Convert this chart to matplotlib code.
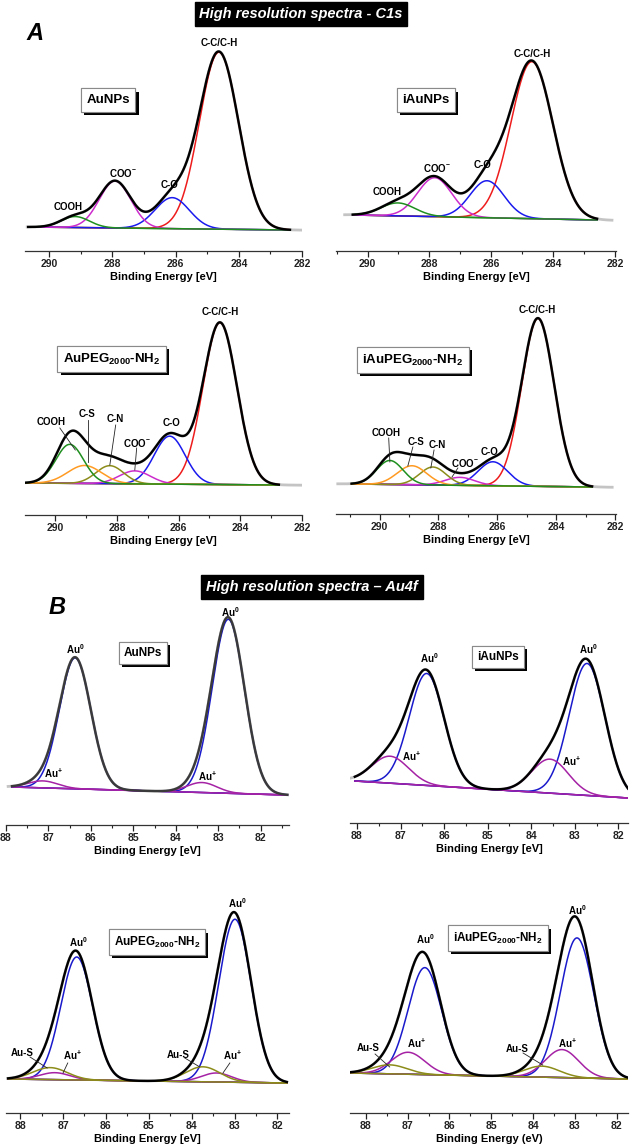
import numpy as np
import matplotlib
matplotlib.use('Agg')
import matplotlib.pyplot as plt
import matplotlib.patheffects as pe
from matplotlib.ticker import MultipleLocator, FormatStrFormatter

plt.rcParams['font.family'] = ['Liberation Sans', 'DejaVu Sans']
plt.rcParams['font.weight'] = 'bold'
plt.rcParams['mathtext.fontset'] = 'custom'
plt.rcParams['mathtext.rm'] = 'Liberation Sans:bold'
plt.rcParams['mathtext.bf'] = 'Liberation Sans:bold'
plt.rcParams['mathtext.it'] = 'Liberation Sans:bold:italic'
plt.rcParams['mathtext.default'] = 'rm'

# ---------------- data: fitted components (center eV, height a.u., sigma eV) ----------------
# C1s
c1s_AuNPs_center = [284.63, 286.11, 287.92, 289.18]
c1s_AuNPs_height = [177, 31, 47, 11]
c1s_AuNPs_sigma = [0.62, 0.54, 0.50, 0.45]
c1s_AuNPs_range = [290.67, 282.38]
c1s_AuNPs_bg = [0, -3]

c1s_iAuNPs_center = [284.69, 286.14, 287.83, 289.02]
c1s_iAuNPs_height = [157, 37, 39, 13]
c1s_iAuNPs_sigma = [0.68, 0.55, 0.55, 0.55]
c1s_iAuNPs_range = [290.48, 282.58]
c1s_iAuNPs_bg = [0, -5]

c1s_AuPEG_center = [284.66, 286.29, 287.42, 288.23, 289.05, 289.53]
c1s_AuPEG_height = [162, 48, 13, 18, 18, 39]
c1s_AuPEG_sigma = [0.55, 0.50, 0.50, 0.45, 0.55, 0.45]
c1s_AuPEG_range = [291.0, 282.75]
c1s_AuPEG_bg = [0, -2]

c1s_iAuPEG_center = [284.62, 286.15, 287.27, 288.19, 288.90, 289.65]
c1s_iAuPEG_height = [168, 24, 8, 18, 19, 24]
c1s_iAuPEG_sigma = [0.55, 0.50, 0.50, 0.45, 0.50, 0.45]
c1s_iAuPEG_range = [290.95, 282.78]
c1s_iAuPEG_bg = [0, -3]

# Au4f
au_AuNPs_center = [82.76, 86.37, 83.38, 87.13]
au_AuNPs_height = [174, 131, 10, 7]
au_AuNPs_sigma = [0.38, 0.37, 0.35, 0.35]
au_AuNPs_range = [87.86, 81.37]
au_AuNPs_bg = [0, -8]

au_iAuNPs_center = [82.72, 86.40, 83.57, 87.24]
au_iAuNPs_height = [132, 112, 34, 27]
au_iAuNPs_sigma = [0.41, 0.40, 0.42, 0.42]
au_iAuNPs_range = [88.05, 81.78]
au_iAuNPs_bg = [0, -17]

au_AuPEG_center = [82.99, 86.68, 83.42, 87.19, 83.74, 87.30]
au_AuPEG_height = [163, 123, 9, 7, 15, 12]
au_AuPEG_sigma = [0.38, 0.37, 0.35, 0.35, 0.40, 0.40]
au_AuPEG_range = [88.28, 81.78]
au_AuPEG_bg = [0, -4]

au_iAuPEG_center = [82.95, 86.59, 83.31, 86.99, 83.79, 87.43]
au_iAuPEG_height = [140, 107, 28, 22, 11, 9]
au_iAuPEG_sigma = [0.40, 0.40, 0.40, 0.40, 0.42, 0.42]
au_iAuPEG_range = [88.38, 81.73]
au_iAuPEG_bg = [0, -6]

# ---------------- styles ----------------
RED, BLUE, MAG, GREEN, OLIVE, ORANGE = '#ee1c1c', '#1a1aee', '#cc2ccc', '#1f8f1f', '#8c8c1a', '#ff9a22'
AUBLUE, AUMAG = '#1a1acc', '#a522a5'
c1s4_colors = [RED, BLUE, MAG, GREEN]
c1s6_colors = [RED, BLUE, MAG, OLIVE, ORANGE, GREEN]
au4_colors = [AUBLUE, AUBLUE, AUMAG, AUMAG]
au6_colors = [AUBLUE, AUBLUE, AUMAG, AUMAG, OLIVE, OLIVE]

W, H = 631, 1147
fig = plt.figure(figsize=(W / 100, H / 100), dpi=100)


def make_axes(x0, x1, y_axis, y_base, y_top, xlim, major, minor, xlabel):
    ax = fig.add_axes([x0 / W, 1 - y_axis / H, (x1 - x0) / W, (y_axis - y_top) / H])
    ymin = -(y_axis - y_base)
    ax.set_ylim(ymin, ymin + (y_axis - y_top))
    ax.set_xlim(*xlim)
    for s in ['left', 'right', 'top']:
        ax.spines[s].set_visible(False)
    ax.spines['bottom'].set_color('#333333')
    ax.spines['bottom'].set_linewidth(0.9)
    ax.set_yticks([])
    ax.xaxis.set_major_locator(MultipleLocator(major))
    ax.xaxis.set_minor_locator(MultipleLocator(minor))
    ax.xaxis.set_major_formatter(FormatStrFormatter('%d'))
    ax.tick_params(axis='x', which='major', direction='out', length=4, width=0.9,
                   labelsize=7.5, pad=2, colors='#222222')
    ax.tick_params(axis='x', which='minor', direction='out', length=2.5, width=0.8, colors='#222222')
    for lab_ in ax.get_xticklabels():
        lab_.set_fontweight('bold')
    ax.set_xlabel(xlabel, fontsize=8, fontweight='bold', labelpad=2)
    ax.patch.set_alpha(0)
    return ax


def gauss(e, c, h, s):
    return h * np.exp(-(e - c) ** 2 / (2 * s ** 2))


def draw_spectrum(ax, centers, heights, sigmas, colors, frange, bg, raw_range, bg_color, env_color='black'):
    def background(e):
        return bg[0] + (bg[1] - bg[0]) * (frange[0] - e) / (frange[0] - frange[1])

    e = np.linspace(frange[0], frange[1], 600)
    er = np.linspace(raw_range[0], raw_range[1], 600)
    env_r = background(er) + sum(gauss(er, c, h, s) for c, h, s in zip(centers, heights, sigmas))
    ax.plot(er, env_r, color='#c4c4c4', lw=2.0, zorder=1)
    ax.plot(e, background(e), color=bg_color, lw=1.1, zorder=2)
    for c, h, s, col in zip(centers, heights, sigmas, colors):
        ax.plot(e, background(e) + gauss(e, c, h, s), color=col, lw=1.1, zorder=3)
    env = background(e) + sum(gauss(e, c, h, s) for c, h, s in zip(centers, heights, sigmas))
    ax.plot(e, env, color=env_color, lw=1.7, zorder=4)


def sample_box(ax, x, y, text, fs=9.5):
    t = ax.text(x, y, text, ha='center', va='center', fontsize=fs, fontweight='bold', color='black', zorder=7,
                bbox=dict(boxstyle='square,pad=0.42', fc='white', ec='#8a8a8a', lw=0.8))
    t.get_bbox_patch().set_path_effects([
        pe.withSimplePatchShadow(offset=(2.3, -2.3), shadow_rgbFace='black', alpha=1.0), pe.Normal()])


def lab(ax, x, y, text, fs=7):
    ax.text(x, y, text, ha='center', va='center', fontsize=fs, fontweight='bold', zorder=8)


def leader(ax, p, q):
    ax.plot([p[0], q[0]], [p[1], q[1]], color='#222222', lw=0.6, zorder=5)


# ---------------- C1s panels ----------------
ax1 = make_axes(25, 302, 251, 227, 30, (290.77, 282.0), 2, 1, 'Binding Energy [eV]')
draw_spectrum(ax1, c1s_AuNPs_center, c1s_AuNPs_height, c1s_AuNPs_sigma, c1s4_colors,
              c1s_AuNPs_range, c1s_AuNPs_bg, [290.7, 282.0], GREEN)
lab(ax1, 284.63, 184, 'C-C/C-H')
lab(ax1, 287.66, 54, 'COO$^{-}$')
lab(ax1, 286.18, 42, 'C-O')
lab(ax1, 289.4, 20, 'COOH')
sample_box(ax1, 288.14, 127, 'AuNPs')

ax2 = make_axes(336, 616, 251, 215, 30, (291.02, 281.97), 2, 1, 'Binding Energy [eV]')
draw_spectrum(ax2, c1s_iAuNPs_center, c1s_iAuNPs_height, c1s_iAuNPs_sigma, c1s4_colors,
              c1s_iAuNPs_range, c1s_iAuNPs_bg, [290.74, 282.1], GREEN)
lab(ax2, 284.69, 161, 'C-C/C-H')
lab(ax2, 287.76, 47, 'COO$^{-}$')
lab(ax2, 286.27, 50, 'C-O')
lab(ax2, 289.38, 23, 'COOH')
sample_box(ax2, 288.12, 115, 'iAuNPs')

ax3 = make_axes(25, 302, 515, 483, 300, (290.98, 282.0), 2, 1, 'Binding Energy [eV]')
draw_spectrum(ax3, c1s_AuPEG_center, c1s_AuPEG_height, c1s_AuPEG_sigma, c1s6_colors,
              c1s_AuPEG_range, c1s_AuPEG_bg, [291.0, 282.0], GREEN)
lab(ax3, 284.66, 171, 'C-C/C-H')
lab(ax3, 286.22, 60, 'C-O')
lab(ax3, 287.36, 40, 'COO$^{-}$')
lab(ax3, 288.07, 64, 'C-N')
lab(ax3, 288.98, 69, 'C-S')
lab(ax3, 290.12, 61, 'COOH')
leader(ax3, (289.85, 55), (289.35, 33))
leader(ax3, (288.95, 63), (288.95, 21))
leader(ax3, (288.04, 58), (288.23, 18))
leader(ax3, (287.36, 35), (287.42, 13))
sample_box(ax3, 288.17, 124, 'AuPEG$_{2000}$-NH$_2$')

ax4 = make_axes(336, 616, 514, 484, 300, (291.48, 281.97), 2, 1, 'Binding Energy [eV]')
draw_spectrum(ax4, c1s_iAuPEG_center, c1s_iAuPEG_height, c1s_iAuPEG_sigma, c1s6_colors,
              c1s_iAuPEG_range, c1s_iAuPEG_bg, [291.42, 282.1], GREEN)
lab(ax4, 284.65, 174, 'C-C/C-H')
lab(ax4, 286.25, 32, 'C-O')
lab(ax4, 287.1, 21, 'COO$^{-}$')
lab(ax4, 288.05, 39, 'C-N')
lab(ax4, 288.77, 42, 'C-S')
lab(ax4, 289.79, 51, 'COOH')
leader(ax4, (289.69, 46), (289.65, 22))
leader(ax4, (288.87, 37), (289.04, 18))
leader(ax4, (288.15, 34), (288.26, 16))
leader(ax4, (287.34, 16), (287.54, 7))
sample_box(ax4, 288.87, 124, 'iAuPEG$_{2000}$-NH$_2$')

# ---------------- Au4f panels ----------------
ax5 = make_axes(6, 289, 825, 787, 600, (88.0, 81.33), 1, 0.5, 'Binding Energy [eV]')
draw_spectrum(ax5, au_AuNPs_center, au_AuNPs_height, au_AuNPs_sigma, au4_colors,
              au_AuNPs_range, au_AuNPs_bg, [87.95, 81.35], AUMAG, env_color='#3a3a3a')
lab(ax5, 82.72, 175, 'Au$^{0}$')
lab(ax5, 86.37, 138, 'Au$^{0}$')
lab(ax5, 83.26, 11, 'Au$^{+}$')
lab(ax5, 86.89, 14, 'Au$^{+}$')
sample_box(ax5, 84.77, 134, 'AuNPs', fs=8.5)

ax6 = make_axes(350, 628, 823, 781, 600, (88.16, 81.78), 1, 0.5, 'Binding Energy [eV]')
draw_spectrum(ax6, au_iAuNPs_center, au_iAuNPs_height, au_iAuNPs_sigma, au4_colors,
              au_iAuNPs_range, au_iAuNPs_bg, [88.2, 81.78], AUMAG)
lab(ax6, 82.68, 132, 'Au$^{0}$')
lab(ax6, 86.33, 123, 'Au$^{0}$')
lab(ax6, 83.07, 20, 'Au$^{+}$')
lab(ax6, 86.74, 25, 'Au$^{+}$')
sample_box(ax6, 84.77, 124, 'iAuNPs', fs=8.5)

ax7 = make_axes(6, 289, 1113, 1079, 890, (88.33, 81.73), 1, 0.5, 'Binding Energy [eV]')
draw_spectrum(ax7, au_AuPEG_center, au_AuPEG_height, au_AuPEG_sigma, au6_colors,
              au_AuPEG_range, au_AuPEG_bg, [88.3, 81.78], OLIVE)
lab(ax7, 82.94, 176, 'Au$^{0}$')
lab(ax7, 86.65, 137, 'Au$^{0}$')
lab(ax7, 87.96, 26, 'Au-S')
lab(ax7, 86.79, 24, 'Au$^{+}$')
lab(ax7, 84.32, 24, 'Au-S')
lab(ax7, 83.06, 24, 'Au$^{+}$')
leader(ax7, (87.77, 22), (87.37, 11))
leader(ax7, (86.89, 16), (87.0, 6))
leader(ax7, (84.16, 21), (83.81, 12))
leader(ax7, (83.11, 16), (83.27, 6))
sample_box(ax7, 84.81, 137, 'AuPEG$_{2000}$-NH$_2$', fs=8.5)

ax8 = make_axes(350, 628, 1113, 1073, 890, (88.38, 81.73), 1, 0.5, 'Binding Energy (eV)')
draw_spectrum(ax8, au_iAuPEG_center, au_iAuPEG_height, au_iAuPEG_sigma, au6_colors,
              au_iAuPEG_range, au_iAuPEG_bg, [88.38, 81.73], OLIVE)
lab(ax8, 82.95, 163, 'Au$^{0}$')
lab(ax8, 86.59, 134, 'Au$^{0}$')
lab(ax8, 87.95, 25, 'Au-S')
lab(ax8, 86.78, 30, 'Au$^{+}$')
lab(ax8, 84.39, 24, 'Au-S')
lab(ax8, 83.17, 30, 'Au$^{+}$')
leader(ax8, (87.78, 19), (87.43, 6))
leader(ax8, (84.24, 20), (83.77, 8))
sample_box(ax8, 84.84, 135, 'iAuPEG$_{2000}$-NH$_2$', fs=8.5)

# ---------------- titles / panel letters ----------------
fig.text(301 / W, 1 - 14 / H, 'High resolution spectra - C1s', ha='center', va='center', color='white',
         fontsize=10.5, fontweight='bold', fontstyle='italic',
         bbox=dict(boxstyle='square,pad=0.32', fc='black', ec='black'))
fig.text(312 / W, 1 - 587 / H, 'High resolution spectra \u2013 Au4f', ha='center', va='center', color='white',
         fontsize=10.5, fontweight='bold', fontstyle='italic',
         bbox=dict(boxstyle='square,pad=0.32', fc='black', ec='black'))
fig.text(35 / W, 1 - 33 / H, 'A', ha='center', va='center', fontsize=17, fontweight='bold', fontstyle='italic')
fig.text(57 / W, 1 - 608 / H, 'B', ha='center', va='center', fontsize=17, fontweight='bold', fontstyle='italic')

fig.savefig('out.png', dpi=100, facecolor='white')
